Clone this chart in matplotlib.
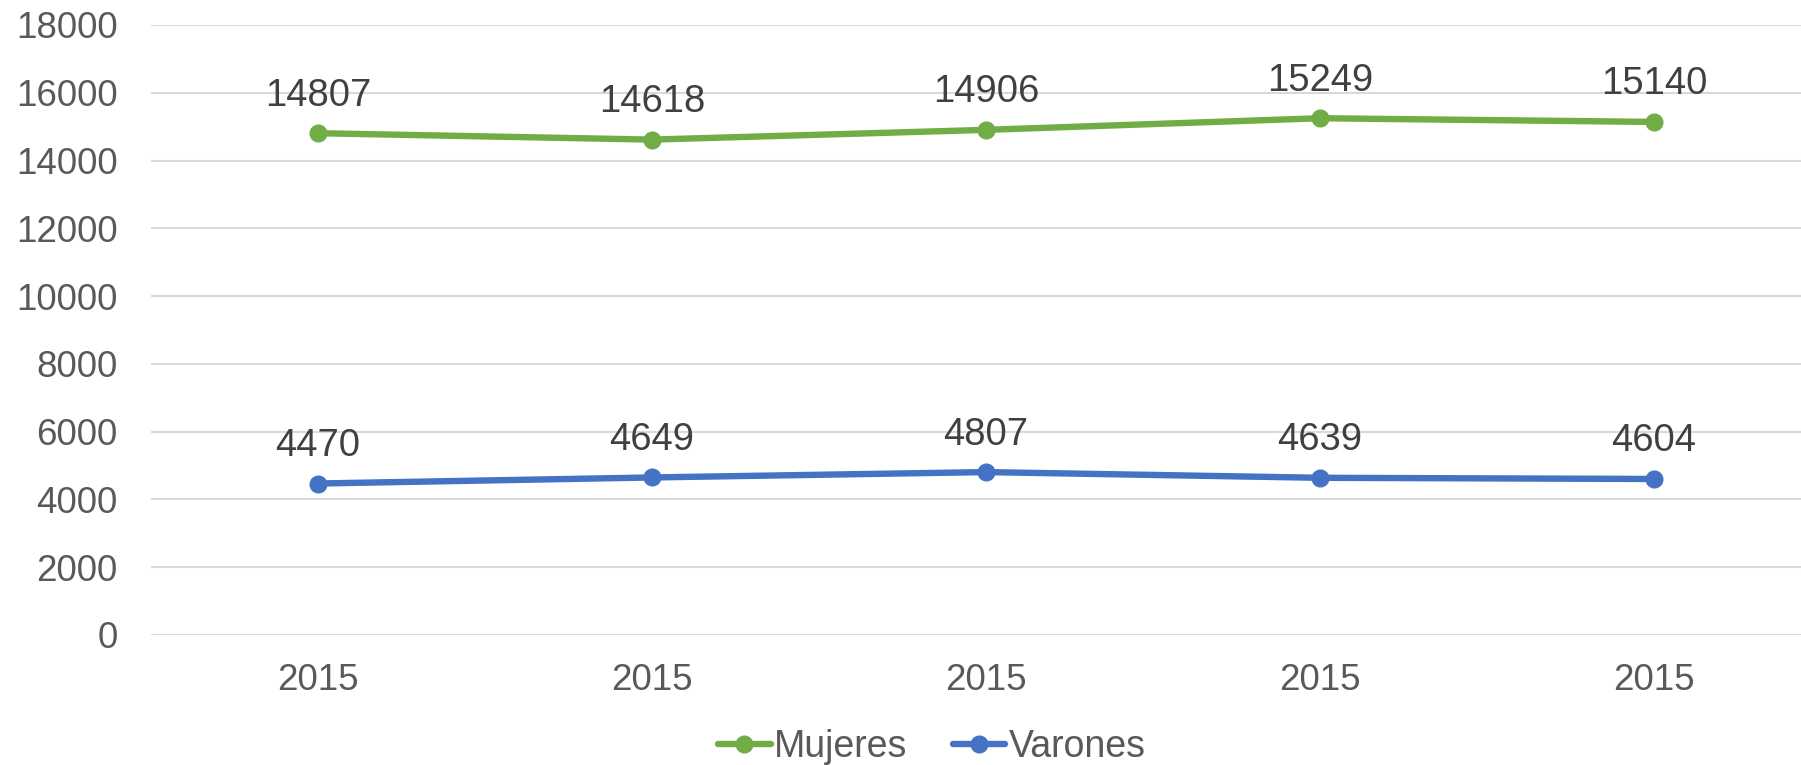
import matplotlib.pyplot as plt

plt.rcParams["font.family"] = ["Liberation Sans", "DejaVu Sans"]

categories = ["2015", "2015", "2015", "2015", "2015"]
mujeres = [14807, 14618, 14906, 15249, 15140]
varones = [4470, 4649, 4807, 4639, 4604]

W, H = 1801, 765
fig = plt.figure(figsize=(W / 100, H / 100), dpi=100)
ax = fig.add_axes([151 / W, 1 - 635 / H, (W - 151) / W, (635 - 25) / H])

x = list(range(len(categories)))
green = "#70AD47"
blue = "#4472C4"

ax.plot(x, mujeres, color=green, lw=4.6, marker="o", ms=12, label="Mujeres",
        solid_capstyle="round", zorder=3)
ax.plot(x, varones, color=blue, lw=4.6, marker="o", ms=12, label="Varones",
        solid_capstyle="round", zorder=3)

for xi, v in zip(x, mujeres):
    ax.annotate(str(v), (xi, v), xytext=(0, 27), textcoords="offset points",
                ha="center", va="center", fontsize=27.5, color="#404040")
for xi, v in zip(x, varones):
    ax.annotate(str(v), (xi, v), xytext=(0, 27), textcoords="offset points",
                ha="center", va="center", fontsize=27.5, color="#404040")

ax.set_ylim(0, 18000)
ax.set_yticks(range(0, 18001, 2000))
ax.set_xlim(-0.5, -0.5 + 1650 / 334)
ax.set_xticks(x)
ax.set_xticklabels(categories)
ax.tick_params(axis="both", length=0, labelsize=26.5, labelcolor="#595959")
ax.tick_params(axis="y", pad=24)
ax.tick_params(axis="x", pad=20)

ax.grid(axis="y", color="#D9D9D9", lw=1.5)
ax.set_axisbelow(True)
for s in ax.spines.values():
    s.set_visible(False)

leg = fig.legend(loc="center", bbox_to_anchor=(932 / W, 1 - 747 / H), ncol=2,
                 frameon=False, fontsize=27, handlelength=1.4,
                 columnspacing=1.2, handletextpad=0.1, labelcolor="#595959")

fig.savefig("out.png", dpi=100)
